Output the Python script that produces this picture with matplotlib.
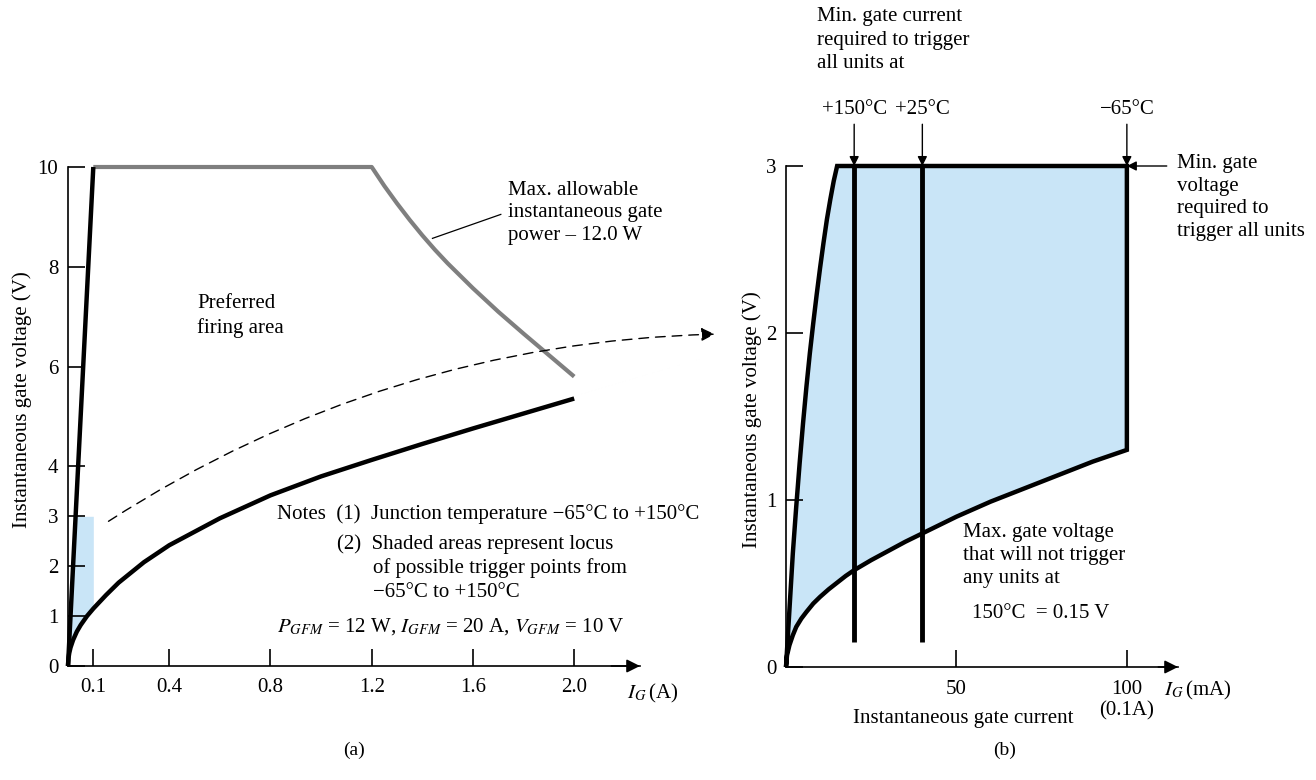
import matplotlib
matplotlib.use('Agg')
import matplotlib.pyplot as plt
import numpy as np

plt.rcParams['font.family'] = ['Liberation Serif', 'DejaVu Serif']
plt.rcParams['mathtext.fontset'] = 'stix'
plt.rcParams['font.size'] = 15

# ---- panel (a): gate characteristics, I_G in A, V_G in V ----
steep_i = [0.0, 0.1]
steep_v = [0.0, 10.0]
pmax_i = [0.1, 1.2, 1.25, 1.3, 1.35, 1.4, 1.45, 1.5, 1.6, 1.7, 1.8, 1.9, 2.0]
pmax_v = [10.0, 10.0, 9.62, 9.27, 8.94, 8.63, 8.34, 8.07, 7.57, 7.1, 6.66, 6.23, 5.8]
low_i = [0.0, 0.002, 0.005, 0.01, 0.02, 0.035, 0.05, 0.075, 0.1, 0.15, 0.2, 0.3,
         0.4, 0.6, 0.8, 1.0, 1.2, 1.4, 1.6, 1.8, 2.0]
low_v = [0.0, 0.16, 0.26, 0.37, 0.52, 0.69, 0.82, 1.0, 1.15, 1.42, 1.67, 2.08,
         2.42, 2.96, 3.42, 3.8, 4.13, 4.45, 4.76, 5.06, 5.36]
shade_top = 3.0
xticks_a = [0.1, 0.4, 0.8, 1.2, 1.6, 2.0]
xlabels_a = ['0.1', '0.4', '0.8', '1.2', '1.6', '2.0']
yticks_a = [0, 1, 2, 3, 4, 6, 8, 10]

# ---- panel (b): zoom on the shaded area, I_G in mA ----
left_i = [0.0, 0.5, 1, 2, 3, 4, 5, 6, 7, 8, 9, 10, 11, 12, 13, 14, 15]
left_v = [0.0, 0.17, 0.34, 0.68, 0.96, 1.22, 1.46, 1.68, 1.88, 2.06, 2.23, 2.39,
          2.54, 2.68, 2.8, 2.91, 3.0]
bottom_i = [0, 0.3, 1, 2, 3, 4.5, 6, 8, 10, 12.5, 15, 17.5, 20, 25, 30, 35, 40,
            50, 60, 70, 80, 90, 100]
bottom_v = [0.0, 0.07, 0.13, 0.19, 0.24, 0.29, 0.33, 0.38, 0.42, 0.465, 0.505, 0.545,
            0.58, 0.64, 0.695, 0.75, 0.8, 0.9, 0.99, 1.07, 1.15, 1.23, 1.3]
top_v = 3.0
trig_i = [20, 40]          # +150 C and +25 C min. trigger currents
trig_low = 0.15
temps = ['+150°C', '+25°C', '−65°C']
temp_i = [20, 40, 100]
xticks_b = [50, 100]
xlabels_b = ['50', '100\n(0.1A)']
yticks_b = [0, 1, 2, 3]

blue = '#c9e5f7'
grey = '#7f7f7f'
W, H = 1316, 780

fig = plt.figure(figsize=(W / 100, H / 100), dpi=100)


def px_axes(x0, y0, x1, y1):
    return fig.add_axes([x0 / W, 1 - y1 / H, (x1 - x0) / W, (y1 - y0) / H])


def style_axes(ax):
    for s in ['top', 'right']:
        ax.spines[s].set_visible(False)
    for s in ['left', 'bottom']:
        ax.spines[s].set_linewidth(1.2)
    ax.tick_params(direction='in', length=12, width=1.2, labelsize=15)
    ax.tick_params(axis='x', pad=9)
    ax.tick_params(axis='y', pad=7)
    ax.patch.set_visible(False)
    ax.annotate('', xy=(1.0, 0), xytext=(0.95, 0), xycoords='axes fraction',
                arrowprops=dict(arrowstyle='-|>', color='k', lw=1.2, mutation_scale=20,
                                shrinkA=0, shrinkB=0))


# ================= (a) =================
ax = px_axes(68, 167, 640, 666)
ax.set_xlim(0, 2.26)
ax.set_ylim(0, 10)
style_axes(ax)
ax.set_xticks(xticks_a, xlabels_a)
ax.set_yticks(yticks_a)

xs = np.linspace(0, steep_i[1], 120)
upper = np.minimum(np.interp(xs, steep_i, steep_v), shade_top)
lower = np.minimum(np.interp(xs, low_i, low_v), upper)
ax.fill_between(xs, lower, upper, color=blue, lw=0)

ax.plot(pmax_i, pmax_v, color=grey, lw=3, solid_capstyle='butt', clip_on=False)
ax.plot(steep_i, steep_v, color='k', lw=3.2, solid_capstyle='butt', clip_on=False)
ax.plot(low_i, low_v, color='k', lw=3.2, solid_capstyle='butt', clip_on=False)

ax.annotate('', xy=(2.555, 6.65), xytext=(0.16, 2.9), annotation_clip=False,
            arrowprops=dict(arrowstyle='-|>', color='k', lw=1.0, linestyle=(0, (7, 5)),
                            connectionstyle='arc3,rad=-0.14', mutation_scale=20,
                            shrinkA=0, shrinkB=0))

ax.text(0.51, 7.45, 'Preferred\nfiring area', va='top', ha='left', linespacing=1.3)
ax.text(1.74, 9.72, 'Max. allowable\ninstantaneous gate\npower – 12.0 W',
        va='top', ha='left', linespacing=1.25)
ax.plot([1.44, 1.71], [8.57, 9.05], color='k', lw=0.9)

ax.text(0.826, 3.05, 'Notes  (1)  Junction temperature −65°C to +150°C', va='center')
ax.text(1.063, 2.45, '(2)  Shaded areas represent locus', va='center')
ax.text(1.206, 1.97, 'of possible trigger points from', va='center')
ax.text(1.206, 1.47, '−65°C to +150°C', va='center')
ax.text(0.826, 0.80, r'$P_{GFM}$ = 12 W, $I_{GFM}$ = 20 A, $V_{GFM}$ = 10 V', va='center')
ax.text(2.21, -0.56, r'$I_G\,$(A)', va='center', ha='left')

fig.text(22 / W, 1 - 400 / H, 'Instantaneous gate voltage (V)', rotation=90,
         ha='center', va='center')
fig.text(354 / W, 1 - 750 / H, '(a)', ha='center', va='center', fontsize=14)

# ================= (b) =================
bx = px_axes(786, 166, 1178, 667)
bx.set_xlim(0, 115)
bx.set_ylim(0, 3)
style_axes(bx)
bx.set_xticks(xticks_b, xlabels_b)
bx.set_yticks(yticks_b)

poly_i = list(left_i) + [temp_i[-1]] + list(bottom_i[::-1])
poly_v = list(left_v) + [top_v] + list(bottom_v[::-1])
bx.fill(poly_i, poly_v, facecolor=blue, edgecolor='k', lw=3.2, joinstyle='miter',
        clip_on=False)
bx.vlines(trig_i, trig_low, top_v, color='k', lw=3.5, clip_on=False)

for t, xi in zip(temps, temp_i):
    bx.annotate('', xy=(xi, top_v), xytext=(xi, 3.25), annotation_clip=False,
                arrowprops=dict(arrowstyle='-|>', color='k', lw=1.0, mutation_scale=14,
                                shrinkA=0, shrinkB=0))
    bx.text(xi, 3.34, t, ha='center', va='center')

bx.text(9.1, 3.95, 'Min. gate current\nrequired to trigger\nall units at',
        ha='left', va='top', linespacing=1.3)
bx.annotate('', xy=(temp_i[-1], top_v), xytext=(111.7, top_v), annotation_clip=False,
            arrowprops=dict(arrowstyle='-|>', color='k', lw=1.0, mutation_scale=14,
                            shrinkA=0, shrinkB=0))
bx.text(114.7, 3.07, 'Min. gate\nvoltage\nrequired to\ntrigger all units',
        ha='left', va='top', linespacing=1.25)
bx.text(51.9, 0.86, 'Max. gate voltage\nthat will not trigger\nany units at',
        ha='left', va='top', linespacing=1.27)
bx.text(54.5, 0.32, '150°C  = 0.15 V', ha='left', va='center')
bx.text(111, -0.14, r'$I_G\,$(mA)', ha='left', va='center')

fig.text(963 / W, 1 - 718 / H, 'Instantaneous gate current', ha='center', va='center')
fig.text(752 / W, 1 - 420 / H, 'Instantaneous gate voltage (V)', rotation=90,
         ha='center', va='center')
fig.text(1005 / W, 1 - 750 / H, '(b)', ha='center', va='center', fontsize=14)

fig.savefig('out.png', dpi=100)
